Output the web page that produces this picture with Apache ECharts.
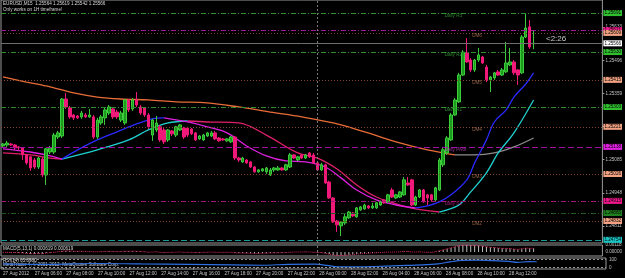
<!DOCTYPE html>
<html>
<head>
<meta charset="utf-8">
<script src="https://cdn.jsdelivr.net/npm/echarts@6/dist/echarts.min.js"></script>
<style>
  html, body { margin: 0; padding: 0; background: #000; }
  #chart { width: 625px; height: 278px; }
</style>
</head>
<body>
<div id="chart"></div>
<script>
  // EURUSD M15, 27 Aug 2012 04:00 .. 28 Aug 13:45
  const symbolName = 'EURUSD,M15'
  const barCount = 153 // slots on the time axis, the last ones are empty (chart shift)

  const xTickLabels = ['27 Aug 2012', '27 Aug 06:00', '27 Aug 08:00', '27 Aug 10:00', '27 Aug 12:00',
    '27 Aug 14:00', '27 Aug 16:00', '27 Aug 18:00', '27 Aug 20:00', '27 Aug 22:00', '28 Aug 00:00',
    '28 Aug 02:00', '28 Aug 04:00', '28 Aug 06:00', '28 Aug 08:00', '28 Aug 10:00', '28 Aug 12:00']

  const priceTicks = [1.25633, 1.25496, 1.25359, 1.25222, 1.25085, 1.24948, 1.24811]

  // [open, close, low, high]
  const candles = [
    [1.25142, 1.25150, 1.25138, 1.25154], [1.25146, 1.25154, 1.25138, 1.25163], [1.25150, 1.25146, 1.25142, 1.25154],
    [1.25146, 1.25134, 1.25126, 1.25150], [1.25138, 1.25134, 1.25126, 1.25142], [1.25134, 1.25105, 1.25084, 1.25138],
    [1.25105, 1.25072, 1.25064, 1.25109], [1.25097, 1.25051, 1.25039, 1.25101], [1.25084, 1.25055, 1.25047, 1.25092],
    [1.25055, 1.25092, 1.25047, 1.25097], [1.25088, 1.25022, 1.25014, 1.25097], [1.25022, 1.25130, 1.24981, 1.25134],
    [1.25117, 1.25134, 1.25109, 1.25142], [1.25117, 1.25187, 1.25109, 1.25196], [1.25179, 1.25196, 1.25171, 1.25204],
    [1.25183, 1.25336, 1.25175, 1.25340], [1.25336, 1.25303, 1.25295, 1.25361], [1.25299, 1.25262, 1.25254, 1.25307],
    [1.25270, 1.25258, 1.25249, 1.25274], [1.25266, 1.25258, 1.25254, 1.25270], [1.25262, 1.25278, 1.25254, 1.25287],
    [1.25270, 1.25262, 1.25258, 1.25278], [1.25262, 1.25270, 1.25258, 1.25295], [1.25262, 1.25179, 1.25171, 1.25270],
    [1.25179, 1.25249, 1.25171, 1.25258], [1.25237, 1.25262, 1.25229, 1.25270], [1.25258, 1.25291, 1.25229, 1.25299],
    [1.25278, 1.25303, 1.25270, 1.25311], [1.25295, 1.25262, 1.25254, 1.25303], [1.25282, 1.25262, 1.25254, 1.25291],
    [1.25249, 1.25278, 1.25241, 1.25287], [1.25237, 1.25332, 1.25229, 1.25336], [1.25332, 1.25291, 1.25282, 1.25336],
    [1.25295, 1.25332, 1.25287, 1.25340], [1.25332, 1.25311, 1.25303, 1.25365], [1.25303, 1.25278, 1.25270, 1.25311],
    [1.25299, 1.25270, 1.25262, 1.25303], [1.25270, 1.25221, 1.25212, 1.25278], [1.25187, 1.25249, 1.25163, 1.25254],
    [1.25208, 1.25237, 1.25200, 1.25266], [1.25221, 1.25167, 1.25159, 1.25229], [1.25208, 1.25159, 1.25150, 1.25216],
    [1.25167, 1.25208, 1.25159, 1.25212], [1.25204, 1.25192, 1.25183, 1.25208], [1.25187, 1.25221, 1.25179, 1.25225],
    [1.25208, 1.25229, 1.25204, 1.25233], [1.25216, 1.25179, 1.25171, 1.25221], [1.25216, 1.25187, 1.25179, 1.25221],
    [1.25212, 1.25192, 1.25187, 1.25216], [1.25196, 1.25167, 1.25163, 1.25200], [1.25171, 1.25183, 1.25167, 1.25187],
    [1.25167, 1.25187, 1.25163, 1.25192], [1.25183, 1.25196, 1.25179, 1.25200], [1.25183, 1.25196, 1.25179, 1.25204],
    [1.25196, 1.25171, 1.25167, 1.25204], [1.25175, 1.25163, 1.25159, 1.25179], [1.25171, 1.25167, 1.25163, 1.25175],
    [1.25163, 1.25171, 1.25159, 1.25175], [1.25159, 1.25179, 1.25154, 1.25183], [1.25179, 1.25092, 1.25084, 1.25183],
    [1.25092, 1.25084, 1.25076, 1.25097], [1.25076, 1.25092, 1.25072, 1.25097], [1.25084, 1.25072, 1.25068, 1.25088],
    [1.25076, 1.25055, 1.25051, 1.25080], [1.25055, 1.25035, 1.25031, 1.25059], [1.25035, 1.25043, 1.25031, 1.25047],
    [1.25039, 1.25047, 1.25035, 1.25051], [1.25035, 1.25051, 1.25026, 1.25055], [1.25022, 1.25043, 1.25018, 1.25051],
    [1.25043, 1.25051, 1.25035, 1.25055], [1.25043, 1.25051, 1.25039, 1.25059], [1.25051, 1.25043, 1.25039, 1.25055],
    [1.25043, 1.25064, 1.25039, 1.25068], [1.25055, 1.25105, 1.25051, 1.25113], [1.25105, 1.25092, 1.25088, 1.25109],
    [1.25084, 1.25097, 1.25080, 1.25101], [1.25105, 1.25092, 1.25088, 1.25109], [1.25092, 1.25105, 1.25088, 1.25109],
    [1.25113, 1.25097, 1.25092, 1.25117], [1.25105, 1.25072, 1.25068, 1.25113], [1.25072, 1.25043, 1.25039, 1.25076],
    [1.25043, 1.25064, 1.25039, 1.25072], [1.25064, 1.24989, 1.24985, 1.25068], [1.24993, 1.24927, 1.24923, 1.24998],
    [1.24927, 1.24828, 1.24824, 1.24931], [1.24832, 1.24816, 1.24787, 1.24836], [1.24812, 1.24828, 1.24770, 1.24832],
    [1.24824, 1.24849, 1.24816, 1.24861], [1.24845, 1.24869, 1.24841, 1.24874], [1.24865, 1.24853, 1.24849, 1.24869],
    [1.24849, 1.24886, 1.24845, 1.24890], [1.24878, 1.24890, 1.24874, 1.24894], [1.24882, 1.24898, 1.24878, 1.24903],
    [1.24894, 1.24886, 1.24882, 1.24898], [1.24886, 1.24894, 1.24882, 1.24907], [1.24886, 1.24907, 1.24882, 1.24911],
    [1.24898, 1.24911, 1.24894, 1.24915], [1.24919, 1.24907, 1.24903, 1.24923], [1.24911, 1.24940, 1.24907, 1.24944],
    [1.24960, 1.24931, 1.24927, 1.24969], [1.24927, 1.24940, 1.24923, 1.24944], [1.24931, 1.24952, 1.24927, 1.24956],
    [1.24940, 1.25002, 1.24936, 1.25014], [1.24989, 1.24981, 1.24977, 1.25014], [1.25002, 1.24898, 1.24894, 1.25006],
    [1.24898, 1.24931, 1.24894, 1.24936], [1.24931, 1.24960, 1.24927, 1.24964], [1.24960, 1.24911, 1.24907, 1.24964],
    [1.24940, 1.24927, 1.24898, 1.24944], [1.24940, 1.24919, 1.24915, 1.24944], [1.24919, 1.24969, 1.24915, 1.24973],
    [1.24960, 1.25084, 1.24956, 1.25092], [1.25064, 1.25126, 1.25055, 1.25134], [1.25113, 1.25175, 1.25105, 1.25183],
    [1.25167, 1.25270, 1.25163, 1.25278], [1.25270, 1.25332, 1.25266, 1.25340], [1.25324, 1.25435, 1.25320, 1.25444],
    [1.25435, 1.25530, 1.25431, 1.25538], [1.25526, 1.25489, 1.25485, 1.25588], [1.25497, 1.25456, 1.25448, 1.25505],
    [1.25456, 1.25497, 1.25448, 1.25501], [1.25497, 1.25518, 1.25489, 1.25547], [1.25510, 1.25485, 1.25481, 1.25514],
    [1.25468, 1.25415, 1.25406, 1.25477], [1.25415, 1.25427, 1.25365, 1.25431], [1.25423, 1.25444, 1.25415, 1.25448],
    [1.25448, 1.25435, 1.25431, 1.25456], [1.25435, 1.25456, 1.25431, 1.25464], [1.25448, 1.25485, 1.25444, 1.25572],
    [1.25477, 1.25489, 1.25472, 1.25547], [1.25489, 1.25444, 1.25435, 1.25497], [1.25456, 1.25435, 1.25394, 1.25460],
    [1.25444, 1.25592, 1.25439, 1.25600], [1.25592, 1.25629, 1.25588, 1.25687], [1.25634, 1.25551, 1.25543, 1.25662],
    [1.25564, 1.25566, 1.25542, 1.25619]
  ]

  // moving averages, [bar, price]
  const maLong = [[0, 1.25427], [6, 1.25406], [12, 1.25386], [18, 1.25361], [24, 1.25344], [30, 1.25336],
    [37, 1.25332], [44, 1.25324], [52, 1.25320], [60, 1.25303], [68, 1.25282], [76, 1.25262], [84, 1.25237],
    [92, 1.25200], [100, 1.25159], [108, 1.25126], [115, 1.25105], [120, 1.25105], [125, 1.25113],
    [130, 1.25138], [135, 1.25175]]
  const maFast = [[0, 1.25130], [7, 1.25117], [12, 1.25101], [15, 1.25088], [19, 1.25126], [24, 1.25167],
    [29, 1.25200], [34, 1.25233], [38, 1.25254], [41, 1.25258], [47, 1.25241], [52, 1.25221], [57, 1.25196],
    [62, 1.25142], [67, 1.25101], [72, 1.25080], [77, 1.25076], [82, 1.25055], [86, 1.25010], [90, 1.24960],
    [95, 1.24919], [100, 1.24898], [105, 1.24886], [108, 1.24894], [111, 1.24911], [114, 1.24940],
    [118, 1.25002], [120, 1.25072], [123, 1.25167], [125, 1.25241], [128, 1.25291], [130, 1.25344],
    [133, 1.25398], [135, 1.25444]]
  const maSlow = [[0, 1.25113], [7, 1.25105], [12, 1.25092], [15, 1.25088], [24, 1.25126], [32, 1.25167],
    [37, 1.25208], [42, 1.25237], [47, 1.25245], [52, 1.25241], [60, 1.25237], [67, 1.25187], [75, 1.25113],
    [80, 1.25092], [85, 1.25047], [90, 1.24981], [95, 1.24931], [100, 1.24903], [105, 1.24882],
    [111, 1.24869], [116, 1.24898], [119, 1.24952], [123, 1.25031], [126, 1.25113], [130, 1.25196],
    [135, 1.25332]]
  // [from bar, to bar, trend]
  const longTrend = [[0, 115, 'down'], [115, 135, 'flat']]
  const fastTrend = [[0, 15, 'down'], [15, 41, 'up'], [41, 105, 'down'], [105, 135, 'up']]
  const slowTrend = [[0, 15, 'down'], [15, 47, 'up'], [47, 111, 'down'], [111, 135, 'up']]

  // pivot / DM levels
  const levelNames = ['Daily R3', '', 'DM6', 'Daily R2', 'DM5', 'Daily R1', 'DM4', 'Daily Pivot', 'DM3', 'Daily S1', '', 'DM2', '']
  const levelValues = [1.25691, 1.25621, 1.25609, 1.25530, 1.25415, 1.25303, 1.25221, 1.25138, 1.25026, 1.24915, 1.24865, 1.24832, 1.24754]

  const macdValues = [
    -0.00005, -0.00006, -0.00008, -0.00010, -0.00012, -0.00016, -0.00022, -0.00028, -0.00030, -0.00026,
    -0.00030, -0.00018, -0.00012, -0.00004, 0.00002, 0.00016, 0.00020, 0.00018, 0.00014, 0.00012,
    0.00012, 0.00010, 0.00010, 0.00002, 0.00004, 0.00006, 0.00010, 0.00012, 0.00008, 0.00006,
    0.00006, 0.00014, 0.00012, 0.00014, 0.00012, 0.00008, 0.00004, -0.00004, 0.00000, 0.00002,
    -0.00006, -0.00010, -0.00006, -0.00006, -0.00002, 0.00000, -0.00004, -0.00006, -0.00006, -0.00010,
    -0.00008, -0.00006, -0.00004, -0.00002, -0.00004, -0.00006, -0.00006, -0.00006, -0.00004, -0.00014,
    -0.00018, -0.00018, -0.00020, -0.00022, -0.00026, -0.00024, -0.00022, -0.00020, -0.00018, -0.00016,
    -0.00014, -0.00012, -0.00010, -0.00004, -0.00002, 0.00000, 0.00000, 0.00002, 0.00000, -0.00004,
    -0.00010, -0.00010, -0.00022, -0.00036, -0.00052, -0.00060, -0.00060, -0.00056, -0.00050, -0.00044,
    -0.00036, -0.00030, -0.00024, -0.00020, -0.00016, -0.00012, -0.00008, -0.00006, -0.00002, -0.00002,
    0.00000, 0.00002, 0.00010, 0.00010, 0.00000, 0.00000, 0.00002, -0.00002, -0.00004, -0.00006,
    0.00002, 0.00020, 0.00036, 0.00054, 0.00072, 0.00088, 0.00104, 0.00114, 0.00118, 0.00112,
    0.00108, 0.00104, 0.00098, 0.00088, 0.00080, 0.00074, 0.00068, 0.00062, 0.00060, 0.00058,
    0.00050, 0.00042, 0.00056, 0.00066, 0.00062, 0.000619
  ]
  const macdTicks = [0.00118, 0]

  const oscValues = [[0, 45], [12, 38], [24, 50], [35, 44], [47, 40], [58, 32], [66, 28], [72, 40], [79, 42],
    [82, 25], [84, 10], [88, 6], [94, 12], [100, 22], [106, 32], [110, 45], [113, 70], [116, 90], [120, 92],
    [124, 86], [128, 76], [130, 64], [133, 74], [135, 72]]
  const oscLevels = [100, 0]

  // time axis, one slot per 15 minutes
  const categories = []
  const t0 = Date.UTC(2012, 7, 27, 4, 0)
  for (let i = 0; i < barCount; i++) {
    const d = new Date(t0 + i * 15 * 60000)
    categories.push(d.getUTCDate() + ' Aug ' + String(d.getUTCHours()).padStart(2, '0') + ':' + String(d.getUTCMinutes()).padStart(2, '0'))
  }

  const FONT = 'Liberation Sans'
  const FS = 4.6
  const DASHDOT = [5, 2, 1, 2]
  const levelStyle = [
    {line: '#2f8f2f', dash: DASHDOT, box: '#2fbf2f', text: '#3aa83a'},
    {line: '#9a1a9a', dash: DASHDOT, box: '#f0168c'},
    {line: '#84452c', dash: [1, 2], box: '#f2a282', text: '#b87858'},
    {line: '#2f8f2f', dash: DASHDOT, box: '#2fbf2f', text: '#3aa83a'},
    {line: '#84452c', dash: [1, 2], box: '#f2a282', text: '#b87858'},
    {line: '#2f8f2f', dash: DASHDOT, box: '#2fbf2f', text: '#3aa83a'},
    {line: '#84452c', dash: [1, 2], box: '#f2a282', text: '#b87858'},
    {line: '#a010a0', dash: [6, 3], box: '#e020e0', text: '#c83cc8'},
    {line: '#84452c', dash: [1, 2], box: '#f2a282', text: '#b87858'},
    {line: '#a0187a', dash: DASHDOT, box: '#f0168c', text: '#c82094'},
    {line: '#1e5a1e', dash: DASHDOT, box: '#1e801e'},
    {line: '#84452c', dash: [1, 2], box: '#f2a282', text: '#b87858'},
    {line: '#1a9a9a', dash: [6, 3], box: '#1ac4c4'}
  ]

  const last = candles[candles.length - 1]
  const boxLabel = (text, bg) => ({
    show: true, position: 'end', distance: 1, formatter: text, backgroundColor: bg,
    color: '#000', fontSize: FS, fontFamily: FONT, padding: [1, 1, 0, 1]
  })
  const daySeparator = () => ({
    xAxis: 80,
    lineStyle: {color: '#7a7a7a', type: [2, 2], width: 1},
    label: {show: false}
  })

  const levelLines = levelValues.map((v, k) => ({
    yAxis: v,
    lineStyle: {color: levelStyle[k].line, type: levelStyle[k].dash, width: 1},
    label: boxLabel(v.toFixed(5), levelStyle[k].box)
  }))
  levelLines.push({
    yAxis: last[1],
    lineStyle: {color: '#6e6e6e', type: 'solid', width: 1},
    label: boxLabel(last[1].toFixed(5), '#ffffff')
  })

  const levelTexts = []
  levelNames.forEach((n, k) => {
    if (!n) return
    levelTexts.push({
      name: n,
      value: [n.indexOf('DM') === 0 ? 119 : 112, levelValues[k]],
      label: {color: levelStyle[k].text}
    })
  })

  function trendSeries (points, segs, colors) {
    return segs.map(([from, to, trend]) => ({
      type: 'line', xAxisIndex: 0, yAxisIndex: 0, symbol: 'none', smooth: 0.35, silent: true, z: 3,
      data: points.filter(p => p[0] >= from && p[0] <= to),
      lineStyle: {color: colors[trend], width: 1.3}
    }))
  }

  const tickShown = i => i % 8 === 0 && i / 8 < xTickLabels.length

  const xAxes = [0, 1, 2].map(g => ({
    type: 'category', gridIndex: g, data: categories, boundaryGap: true,
    axisLine: {show: false},
    axisTick: g === 2 ? {show: true, interval: tickShown, alignWithLabel: true, length: 2, lineStyle: {color: '#9a9a9a'}} : {show: false},
    axisLabel: g === 2 ? {
      show: true, interval: tickShown, formatter: (v, i) => xTickLabels[i / 8],
      align: 'left', margin: 2, color: '#c8c8c8', fontSize: FS, fontFamily: FONT
    } : {show: false},
    splitLine: {show: false}
  }))

  const rightLabel = {color: '#c0c0c0', fontSize: FS, fontFamily: FONT, margin: 3}
  const option = {
    backgroundColor: '#000',
    animation: false,
    grid: [
      {left: 1, right: 19, top: 0, height: 243, show: true, borderColor: '#9a9a9a', borderWidth: 1},
      {left: 1, right: 19, top: 245, height: 11, show: true, borderColor: '#9a9a9a', borderWidth: 1},
      {left: 1, right: 19, top: 258, height: 11, show: true, borderColor: '#9a9a9a', borderWidth: 1}
    ],
    xAxis: xAxes,
    yAxis: [
      {
        type: 'value', gridIndex: 0, position: 'right', min: 1.24741, max: 1.25745,
        splitLine: {show: false}, axisLine: {show: false},
        axisTick: {show: true, customValues: priceTicks, length: 2, lineStyle: {color: '#9a9a9a'}},
        axisLabel: Object.assign({customValues: priceTicks, formatter: v => v.toFixed(5)}, rightLabel)
      },
      {
        type: 'value', gridIndex: 1, position: 'right', min: -0.00068, max: 0.00118,
        splitLine: {show: false}, axisLine: {show: false}, axisTick: {show: false},
        axisLabel: Object.assign({customValues: macdTicks, formatter: v => v.toFixed(5)}, rightLabel)
      },
      {
        type: 'value', gridIndex: 2, position: 'right', min: -20, max: 120,
        splitLine: {show: false}, axisLine: {show: false}, axisTick: {show: false},
        axisLabel: Object.assign({customValues: oscLevels, formatter: v => String(v)}, rightLabel)
      }
    ],
    graphic: [
      {type: 'text', left: 3, top: 1, style: {text: symbolName + '  ' + [last[0], last[3], last[2], last[1]].map(v => v.toFixed(5)).join(' '), fill: '#d8d8d8', fontSize: FS, fontFamily: FONT}},
      {type: 'text', left: 3, top: 7, style: {text: 'Only works on 1H timeframe!', fill: '#d8d8d8', fontSize: FS, fontFamily: FONT}},
      {type: 'text', left: 546, top: 35, style: {text: '<2:26', fill: '#c8c8c8', fontSize: 8, fontFamily: FONT}},
      {type: 'text', left: 3, top: 246, style: {text: 'MACD(5,13,1) 0.000619 0.000619', fill: '#d8d8d8', fontSize: FS, fontFamily: FONT}},
      {type: 'text', left: 3, top: 258.5, style: {text: 'RSI(14) 65.8980', fill: '#d8d8d8', fontSize: FS, fontFamily: FONT}},
      {type: 'text', left: 3, top: 262, style: {text: 'MetaTrader 4, © 2001-2012, MetaQuotes Software Corp.', fill: '#d8d8d8', fontSize: FS, fontFamily: FONT}}
    ],
    series: [
      {
        // carrier for the horizontal levels, draws nothing itself
        type: 'line', xAxisIndex: 0, yAxisIndex: 0, data: [[0, levelValues[7]]], symbol: 'none',
        lineStyle: {opacity: 0}, silent: true, z: 1,
        markLine: {silent: true, symbol: ['none', 'none'], precision: 5, data: levelLines.concat([daySeparator()])}
      },
      {
        type: 'candlestick', xAxisIndex: 0, yAxisIndex: 0, data: candles, barWidth: 3, z: 4,
        itemStyle: {color: '#1c9c1c', color0: '#f01878', borderColor: '#3ccc3c', borderColor0: '#f01878', borderWidth: 1}
      },
      ...trendSeries(maLong, longTrend, {down: '#e86c38', flat: '#8c8c8c'}),
      ...trendSeries(maSlow, slowTrend, {down: '#e0206a', up: '#20d0d0'}),
      ...trendSeries(maFast, fastTrend, {down: '#e020e0', up: '#2a2aff'}),
      {
        type: 'scatter', xAxisIndex: 0, yAxisIndex: 0, symbol: 'rect', symbolSize: 1, silent: true, z: 5,
        itemStyle: {color: 'rgba(0,0,0,0)'},
        data: levelTexts,
        label: {show: true, position: 'right', distance: 1, offset: [0, 3], formatter: p => p.name, fontSize: FS, fontFamily: FONT}
      },
      {
        type: 'bar', xAxisIndex: 1, yAxisIndex: 1, data: macdValues, barWidth: 1, silent: true,
        itemStyle: {color: '#bdbdbd'},
        markLine: {silent: true, symbol: ['none', 'none'], data: [daySeparator()]}
      },
      {
        type: 'line', xAxisIndex: 1, yAxisIndex: 1, data: macdValues, symbol: 'none', silent: true,
        lineStyle: {color: '#d02050', type: 'dotted', width: 1}
      },
      {
        type: 'line', xAxisIndex: 2, yAxisIndex: 2, data: oscValues, symbol: 'none', smooth: 0.3, silent: true,
        lineStyle: {color: '#2f6fe0', width: 1.2},
        markLine: {
          silent: true, symbol: ['none', 'none'],
          data: oscLevels.map(v => ({yAxis: v, lineStyle: {color: '#9a9a9a', type: [2, 2], width: 1}, label: {show: false}})).concat([daySeparator()])
        }
      }
    ]
  }

  const chart = echarts.init(document.getElementById('chart'))
  chart.setOption(option)
</script>
</body>
</html>
